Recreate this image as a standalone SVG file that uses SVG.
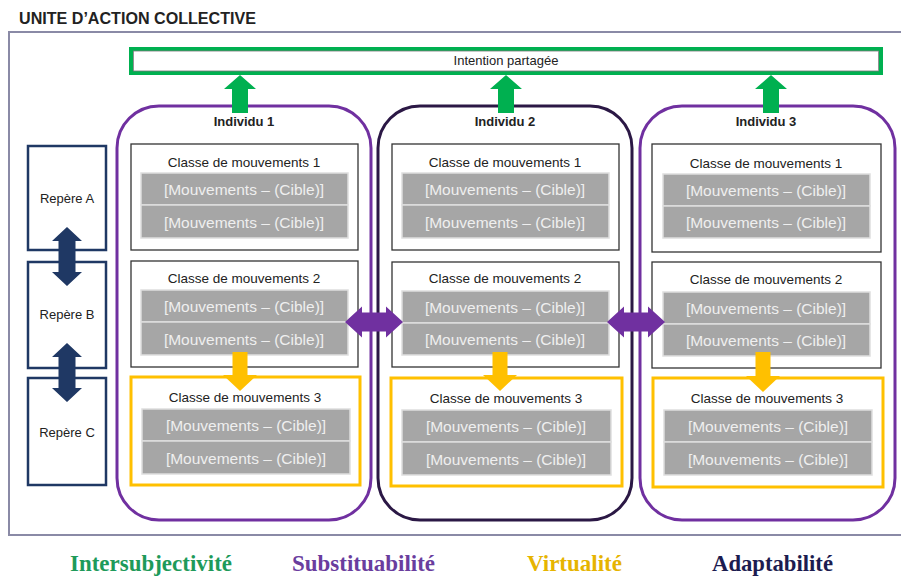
<svg xmlns="http://www.w3.org/2000/svg" width="901" height="578" viewBox="0 0 901 578">
<style>
.t{font-family:"Liberation Sans",Arial,sans-serif;fill:#222}
.ct{font-family:"Liberation Sans",Arial,sans-serif;font-size:13.5px;fill:#222;text-anchor:middle}
.ind{fill:#fff;stroke:#7030a0;stroke-width:3}
.ind2{fill:#fff;stroke:#2b1845;stroke-width:3}
.cls{fill:#fff;stroke:#333;stroke-width:1.3}
.cls3{fill:#fff;stroke:#ffc000;stroke-width:3}
.row{fill:#a6a6a6;stroke:#dedede;stroke-width:1.5}
.rt{font-family:"Liberation Sans",Arial,sans-serif;font-size:15.5px;fill:#efefef;text-anchor:middle}
.rep{fill:#fff;stroke:#1f3864;stroke-width:2.5}
.lbl{font-family:"Liberation Serif","Times New Roman",serif;font-weight:bold;font-size:23px}
</style>
<rect width="901" height="578" fill="#fff"/>
<text class="t" x="19" y="24" font-size="17" font-weight="bold" textLength="237" lengthAdjust="spacingAndGlyphs">UNITE D’ACTION COLLECTIVE</text>
<rect x="9" y="32" width="900" height="503" fill="#fff" stroke="#8a8aa6" stroke-width="2"/>

<g id="intention">
<rect x="131" y="49" width="750" height="24" fill="#fff" stroke="#00b050" stroke-width="4"/>
<rect x="133.5" y="51" width="745" height="20" fill="#fff" stroke="#777" stroke-width="0.8"/>
<text class="t" x="506" y="65" font-size="13" text-anchor="middle">Intention partagée</text>
</g>

<g id="repere-a"><rect class="rep" x="28" y="146" width="78" height="104"/><text class="t" x="67" y="203" font-size="13" text-anchor="middle">Repère A</text></g>
<g id="repere-b"><rect class="rep" x="28" y="262" width="78" height="106"/><text class="t" x="67" y="319" font-size="13" text-anchor="middle">Repère B</text></g>
<g id="repere-c"><rect class="rep" x="28" y="378" width="78" height="107"/><text class="t" x="67" y="437" font-size="13" text-anchor="middle">Repère C</text></g>

<g id="individu-1">
<rect class="ind" x="117" y="106" width="254" height="414" rx="42"/>
<text class="t" x="244" y="126" font-size="13" font-weight="bold" text-anchor="middle">Individu 1</text>
<g id="i1-c1"><rect class="cls" x="131" y="144" width="227" height="106"/><text class="ct" x="244" y="167">Classe de mouvements 1</text>
<rect class="row" x="141" y="173" width="207" height="32"/><text class="rt" x="244" y="195">[Mouvements – (Cible)]</text>
<rect class="row" x="141" y="205" width="207" height="33"/><text class="rt" x="244" y="228">[Mouvements – (Cible)]</text></g>
<g id="i1-c2"><rect class="cls" x="131" y="261" width="227" height="106"/><text class="ct" x="244" y="283">Classe de mouvements 2</text>
<rect class="row" x="141" y="290" width="207" height="32"/><text class="rt" x="244" y="312">[Mouvements – (Cible)]</text>
<rect class="row" x="141" y="322" width="207" height="33"/><text class="rt" x="244" y="345">[Mouvements – (Cible)]</text></g>
<g id="i1-c3"><rect class="cls3" x="131" y="377" width="229" height="108"/><text class="ct" x="245" y="402">Classe de mouvements 3</text>
<rect class="row" x="142" y="409" width="208" height="32"/><text class="rt" x="246" y="431">[Mouvements – (Cible)]</text>
<rect class="row" x="142" y="441" width="208" height="33"/><text class="rt" x="246" y="464">[Mouvements – (Cible)]</text></g>
</g>

<g id="individu-2">
<rect class="ind2" x="378" y="106" width="254" height="414" rx="42"/>
<text class="t" x="505" y="126" font-size="13" font-weight="bold" text-anchor="middle">Individu 2</text>
<g id="i2-c1"><rect class="cls" x="392" y="144" width="227" height="106"/><text class="ct" x="505" y="167">Classe de mouvements 1</text>
<rect class="row" x="402" y="173" width="207" height="32"/><text class="rt" x="505" y="195">[Mouvements – (Cible)]</text>
<rect class="row" x="402" y="205" width="207" height="33"/><text class="rt" x="505" y="228">[Mouvements – (Cible)]</text></g>
<g id="i2-c2"><rect class="cls" x="392" y="262" width="227" height="105"/><text class="ct" x="505" y="283">Classe de mouvements 2</text>
<rect class="row" x="402" y="291" width="207" height="32"/><text class="rt" x="505" y="313">[Mouvements – (Cible)]</text>
<rect class="row" x="402" y="323" width="207" height="32"/><text class="rt" x="505" y="345">[Mouvements – (Cible)]</text></g>
<g id="i2-c3"><rect class="cls3" x="391" y="378" width="231" height="108"/><text class="ct" x="506" y="403">Classe de mouvements 3</text>
<rect class="row" x="402" y="410" width="209" height="32"/><text class="rt" x="506" y="432">[Mouvements – (Cible)]</text>
<rect class="row" x="402" y="442" width="209" height="33"/><text class="rt" x="506" y="465">[Mouvements – (Cible)]</text></g>
</g>

<g id="individu-3">
<rect class="ind" x="640" y="106" width="255" height="414" rx="42"/>
<text class="t" x="766" y="126" font-size="13" font-weight="bold" text-anchor="middle">Individu 3</text>
<g id="i3-c1"><rect class="cls" x="652" y="144" width="229" height="108"/><text class="ct" x="766" y="168">Classe de mouvements 1</text>
<rect class="row" x="663" y="174" width="207" height="32"/><text class="rt" x="766" y="196">[Mouvements – (Cible)]</text>
<rect class="row" x="663" y="206" width="207" height="32"/><text class="rt" x="766" y="228">[Mouvements – (Cible)]</text></g>
<g id="i3-c2"><rect class="cls" x="652" y="262" width="229" height="106"/><text class="ct" x="766" y="284">Classe de mouvements 2</text>
<rect class="row" x="663" y="292" width="207" height="32"/><text class="rt" x="766" y="314">[Mouvements – (Cible)]</text>
<rect class="row" x="663" y="324" width="207" height="32"/><text class="rt" x="766" y="346">[Mouvements – (Cible)]</text></g>
<g id="i3-c3"><rect class="cls3" x="653" y="378" width="230" height="109"/><text class="ct" x="767" y="403">Classe de mouvements 3</text>
<rect class="row" x="664" y="410" width="208" height="32"/><text class="rt" x="768" y="432">[Mouvements – (Cible)]</text>
<rect class="row" x="664" y="442" width="208" height="33"/><text class="rt" x="768" y="465">[Mouvements – (Cible)]</text></g>
</g>

<g id="connectors">
<g fill="#00b050">
<path d="M240,75 L256,89 L248,89 L248,113 L232,113 L232,89 L224,89 Z"/>
<path d="M506,75 L522,89 L514,89 L514,113 L498,113 L498,89 L490,89 Z"/>
<path d="M771,75 L787,89 L779,89 L779,113 L763,113 L763,89 L755,89 Z"/>
</g>
<g fill="#ffc000">
<path d="M232.5,352 L247.5,352 L247.5,375 L257,375 L240,391 L223,375 L232.5,375 Z"/>
<path d="M492.5,352 L507.5,352 L507.5,375 L517,375 L500,391 L483,375 L492.5,375 Z"/>
<path d="M755.5,352 L770.5,352 L770.5,376 L780,376 L763,392 L746,376 L755.5,376 Z"/>
</g>
<g fill="#7030a0">
<path d="M345,322 L362,306.5 L362,312.5 L386,312.5 L386,306.5 L403,322 L386,337.5 L386,331.5 L362,331.5 L362,337.5 Z"/>
<path d="M607,322 L624,306.5 L624,312.5 L648,312.5 L648,306.5 L665,322 L648,337.5 L648,331.5 L624,331.5 L624,337.5 Z"/>
</g>
<g fill="#1f3864">
<path d="M67,227 L82,241 L75.5,241 L75.5,272 L82,272 L67,286 L52,272 L58.5,272 L58.5,241 L52,241 Z"/>
<path d="M67,343 L82,357 L75.5,357 L75.5,388 L82,388 L67,402 L52,388 L58.5,388 L58.5,357 L52,357 Z"/>
</g>
</g>

<text class="lbl" x="70" y="571" fill="#1e9a5a" textLength="162" lengthAdjust="spacingAndGlyphs">Intersubjectivité</text>
<text class="lbl" x="292" y="571" fill="#6a3d9e" textLength="143" lengthAdjust="spacingAndGlyphs">Substituabilité</text>
<text class="lbl" x="527" y="571" fill="#e6b400" textLength="95" lengthAdjust="spacingAndGlyphs">Virtualité</text>
<text class="lbl" x="712" y="571" fill="#1c1c50" textLength="121" lengthAdjust="spacingAndGlyphs">Adaptabilité</text>
</svg>
